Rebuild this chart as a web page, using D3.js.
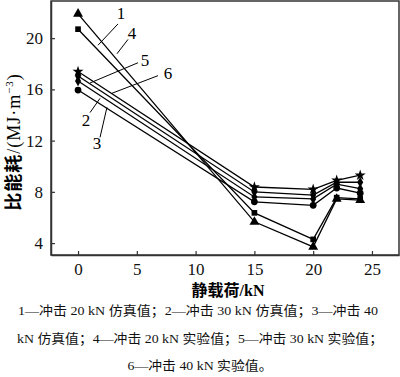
<!DOCTYPE html>
<html><head><meta charset="utf-8">
<script src="https://cdn.jsdelivr.net/npm/d3@7"></script>
<style>body{margin:0;background:#fff}svg{display:block}</style>
</head><body>
<script>
// ---- data ----
const loads = [0, 15, 20, 22, 24];
const s1 = [20.7, 6.36, 4.29, 7.55, 7.45]; // 1 冲击20kN 仿真值
const s2 = [16.65, 7.6, 7.45, 8.6, 8.25];  // 2 冲击30kN 仿真值
const s3 = [15.95, 7.22, 6.95, 8.3, 7.9];  // 3 冲击40kN 仿真值
const s4 = [21.9, 5.66, 3.71, 7.45, 7.35]; // 4 冲击20kN 实验值
const s5 = [17.05, 7.99, 7.75, 8.75, 8.75];// 5 冲击30kN 实验值
const s6 = [17.4, 8.38, 8.2, 8.9, 9.3];    // 6 冲击40kN 实验值
const seriesNames = ["1", "2", "3", "4", "5", "6"];
const seriesValues = [s1, s2, s3, s4, s5, s6];
const seriesSymbols = [d3.symbolSquare, d3.symbolDiamond, d3.symbolCircle, d3.symbolTriangle, d3.symbolDiamond, d3.symbolStar];
const xTicks = [0, 5, 10, 15, 20, 25];
const yTicks = [4, 8, 12, 16, 20];
// label annotations in data units
const labelNames = ["1", "4", "5", "6", "2", "3"];
const labelPos = [[3.66, 21.5], [4.59, 19.95], [5.70, 17.85], [7.65, 16.83], [0.68, 13.18], [1.61, 11.35]];
const leaderFrom = [[3.4, 21.11], [4.25, 19.9], [5.10, 18.08], [6.8, 17.07], [1.02, 14.19], [1.87, 12.25]];
const leaderTo = [[1.7, 19.45], [3.31, 18.78], [1.02, 16.5], [2.89, 15.7], [1.87, 15.3], [2.46, 14.6]];
const caption = [
  "1—冲击 20 kN 仿真值；2—冲击 30 kN 仿真值；3—冲击 40",
  "kN 仿真值；4—冲击 20 kN 实验值；5—冲击 30 kN 实验值；",
  "6—冲击 40 kN 实验值。"
];

const W = 400, H = 377;
const svg = d3.select("body").append("svg").attr("width", W).attr("height", H);
const L = 51, R = 399, T = 1, B = 255;
const x = d3.scaleLinear().domain([-2.3, 27.3]).range([L, R]);
const y = d3.scaleLinear().domain([3.07, 22.9]).range([B, T]);
const serif = "'Liberation Serif','Times New Roman','Noto Sans CJK SC',serif";
const cjk = "'Noto Sans CJK SC','Liberation Serif',serif";

// frame
svg.append("rect").attr("x", L).attr("y", T).attr("width", R - L).attr("height", B - T)
  .attr("fill", "none").attr("stroke", "#333").attr("stroke-width", 1.5);

// axes
const xAxis = svg.append("g").attr("transform", `translate(0,${B})`)
  .call(d3.axisBottom(x).tickValues(xTicks).tickSizeInner(-4).tickSizeOuter(0).tickPadding(9));
const yAxis = svg.append("g").attr("transform", `translate(${L},0)`)
  .call(d3.axisLeft(y).tickValues(yTicks).tickSizeInner(-4).tickSizeOuter(0).tickPadding(8));
[xAxis, yAxis].forEach(g => {
  g.select(".domain").attr("stroke", "#333").attr("stroke-width", 1.5);
  g.selectAll(".tick line").attr("stroke", "#333").attr("stroke-width", 1.2);
  g.selectAll(".tick text").attr("font-family", serif).attr("font-size", 17).attr("fill", "#111");
});
xAxis.selectAll(".tick text").attr("dy", "0.71em").attr("y", 8);

// lines & markers
const line = d3.line().x((d, i) => x(loads[i])).y(d => y(d));
seriesValues.forEach((vals) => {
  svg.append("path").datum(vals).attr("d", line)
    .attr("fill", "none").attr("stroke", "#000").attr("stroke-width", 1.3);
});
seriesValues.forEach((vals, k) => {
  const sym = seriesSymbols[k];
  const size = sym === d3.symbolTriangle ? 42 : sym === d3.symbolStar ? 38 : sym === d3.symbolCircle ? 36 : 32;
  svg.append("g").selectAll("path").data(vals).join("path")
    .attr("transform", (d, i) => `translate(${x(loads[i])},${y(d)})`)
    .attr("d", d3.symbol().type(sym).size(size))
    .attr("fill", "#000");
});

// labels and leaders
labelNames.forEach((n, i) => {
  svg.append("line")
    .attr("x1", x(leaderFrom[i][0])).attr("y1", y(leaderFrom[i][1]))
    .attr("x2", x(leaderTo[i][0])).attr("y2", y(leaderTo[i][1]))
    .attr("stroke", "#000").attr("stroke-width", 1);
  svg.append("text").attr("x", x(labelPos[i][0])).attr("y", y(labelPos[i][1]))
    .attr("text-anchor", "middle").attr("font-family", serif).attr("font-size", 17)
    .text(n);
});

// axis titles
const yt = svg.append("text").attr("transform", `translate(20,142) rotate(-90)`)
  .attr("text-anchor", "middle").attr("font-family", serif).attr("font-size", 18)
  .attr("letter-spacing", 1);
yt.append("tspan").attr("font-family", cjk).attr("font-weight", "bold").text("比能耗");
yt.append("tspan").text("/(MJ·m");
yt.append("tspan").attr("font-size", 11).attr("dy", -7).text("−3");
yt.append("tspan").attr("dy", 7).text(")");

const xt = svg.append("text").attr("x", 228).attr("y", 296).attr("text-anchor", "middle")
  .attr("font-family", serif).attr("font-size", 16);
xt.append("tspan").attr("font-family", cjk).attr("font-weight", "bold").text("静载荷");
xt.append("tspan").attr("font-weight", "bold").text("/kN");

// caption
const capX = [198, 200, 200], capY = [315, 343, 370], capW = [360, 366, 145];
caption.forEach((c, i) => {
  svg.append("text").attr("x", capX[i]).attr("y", capY[i]).attr("text-anchor", "middle")
    .attr("font-family", serif).attr("font-size", 13).attr("fill", "#111")
    .attr("textLength", capW[i]).attr("lengthAdjust", "spacingAndGlyphs")
    .text(c);
});
</script>
</body></html>
